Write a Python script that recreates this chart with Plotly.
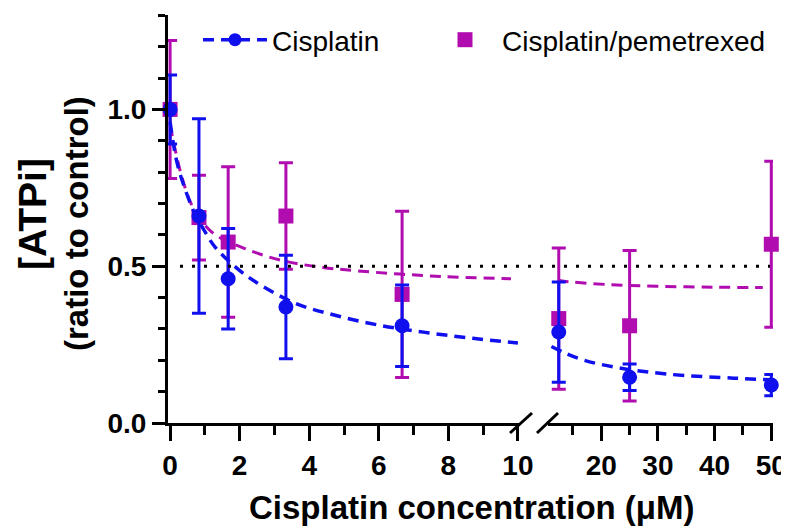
import plotly.graph_objects as go

# ---------------- data ----------------
conc = [0, 0.83, 1.67, 3.33, 6.67, 12.5, 25, 50]
cis_mean = [1.00, 0.66, 0.46, 0.37, 0.31, 0.29, 0.146, 0.121]
cis_err = [0.11, 0.31, 0.16, 0.165, 0.13, 0.16, 0.042, 0.034]
pem_mean = [1.00, 0.655, 0.577, 0.66, 0.41, 0.333, 0.31, 0.57]
pem_err = [0.22, 0.135, 0.24, 0.17, 0.265, 0.225, 0.24, 0.265]

# fitted curves (read as points from the picture)
cis_fit_x_left = [0, 0.2, 0.45, 0.7, 0.95, 1.3, 1.96, 2.6, 3.64, 4.8, 6.1, 7.4, 8.7, 10]
cis_fit_y_left = [0.96, 0.83, 0.74, 0.67, 0.62, 0.56, 0.49, 0.44, 0.38, 0.342, 0.31, 0.288, 0.27, 0.255]
cis_fit_x_right = [11.2, 13.4, 17, 22.8, 31.6, 43.4, 50]
cis_fit_y_right = [0.244, 0.225, 0.2, 0.177, 0.156, 0.143, 0.138]
pem_fit_x_left = [0, 0.3, 0.6, 0.86, 1.3, 2.2, 3.26, 4.4, 5.4, 6.6, 7.85, 9.8]
pem_fit_y_left = [0.95, 0.8, 0.7, 0.65, 0.6, 0.554, 0.517, 0.496, 0.485, 0.475, 0.467, 0.46]
pem_fit_x_right = [12.3, 13.4, 21.6, 29.8, 40, 48.5]
pem_fit_y_right = [0.455, 0.452, 0.441, 0.436, 0.433, 0.432]

half_max = 0.5
break_at = 10

x_title = "Cisplatin concentration (μM)"
y_title_1 = "[ATPi]"
y_title_2 = "(ratio to control)"
names = ["Cisplatin", "Cisplatin/pemetrexed"]

BLUE = "#1010EE"
MAG = "#B00CB0"
FONT = "Liberation Sans, Arial, sans-serif"

# the page body has an 8px margin, so the figure is a little smaller than the window
OFF = 8
WIN_W, WIN_H = 789, 529
W, H = WIN_W - OFF, WIN_H - OFF
PLOT_L, PLOT_R, PLOT_T, PLOT_B = 168, 773, 15, 423   # plot box in window pixels
ML, MT = PLOT_L - OFF, PLOT_T - OFF
MR, MB = WIN_W - PLOT_R, WIN_H - PLOT_B
PW = PLOT_R - PLOT_L
PH = PLOT_B - PLOT_T


def px_x(p):
    return (p - PLOT_L) / PW


def px_y(p):
    return (PLOT_B - p) / PH


fig = go.Figure()


def split(xs, ys, es):
    L = [(x, y, e) for x, y, e in zip(xs, ys, es) if x <= break_at]
    R = [(x, y, e) for x, y, e in zip(xs, ys, es) if x > break_at]
    return L, R


# magenta data (drawn first, so blue sits on top)
for part, xa in zip(split(conc, pem_mean, pem_err), ["x", "x2"]):
    fig.add_trace(go.Scatter(
        x=[p[0] for p in part], y=[p[1] for p in part], xaxis=xa, yaxis="y",
        mode="markers", name=names[1], legendrank=2, legendwidth=290,
        showlegend=(xa == "x"),
        marker=dict(symbol="square", size=15, color=MAG),
        error_y=dict(type="data", array=[p[2] for p in part], visible=True,
                     color=MAG, thickness=3, width=7),
        cliponaxis=False,
    ))

# magenta fit
fig.add_trace(go.Scatter(x=pem_fit_x_left, y=pem_fit_y_left, xaxis="x", yaxis="y",
                         mode="lines", line=dict(color=MAG, width=3, dash="11px,7px", shape="spline"),
                         showlegend=False, hoverinfo="skip"))
fig.add_trace(go.Scatter(x=pem_fit_x_right, y=pem_fit_y_right, xaxis="x2", yaxis="y",
                         mode="lines", line=dict(color=MAG, width=3, dash="11px,7px", shape="spline"),
                         showlegend=False, hoverinfo="skip"))

# blue fit
fig.add_trace(go.Scatter(x=cis_fit_x_left, y=cis_fit_y_left, xaxis="x", yaxis="y",
                         mode="lines", line=dict(color=BLUE, width=3.5, dash="11px,7px", shape="spline"),
                         showlegend=False, hoverinfo="skip"))
fig.add_trace(go.Scatter(x=cis_fit_x_right, y=cis_fit_y_right, xaxis="x2", yaxis="y",
                         mode="lines", line=dict(color=BLUE, width=3.5, dash="11px,7px", shape="spline"),
                         showlegend=False, hoverinfo="skip"))

# blue data
for part, xa in zip(split(conc, cis_mean, cis_err), ["x", "x2"]):
    fig.add_trace(go.Scatter(
        x=[p[0] for p in part], y=[p[1] for p in part], xaxis=xa, yaxis="y",
        mode="markers", showlegend=False,
        marker=dict(symbol="circle", size=15, color=BLUE),
        error_y=dict(type="data", array=[p[2] for p in part], visible=True,
                     color=BLUE, thickness=3, width=7),
        cliponaxis=False,
    ))

# legend entry for Cisplatin (dashed line + circle)
fig.add_trace(go.Scatter(x=[None], y=[None], xaxis="x", yaxis="y", mode="lines+markers",
                         name=names[0], legendrank=1, legendwidth=151,
                         line=dict(color=BLUE, width=3.5, dash="11px,7px"),
                         marker=dict(symbol="circle", size=13, color=BLUE)))

axis_common = dict(showline=True, linecolor="black", linewidth=3, ticks="outside",
                   tickcolor="black", tickwidth=3, ticklen=15, showgrid=False, zeroline=False,
                   automargin=False,
                   tickfont=dict(family=FONT, size=28, color="black", weight="bold"),
                   minor=dict(ticks="outside", ticklen=9, tickwidth=3, tickcolor="black", showgrid=False))

fig.update_layout(
    width=W, height=H,
    margin=dict(l=ML, r=MR, t=MT, b=MB, autoexpand=False),
    paper_bgcolor="white", plot_bgcolor="white",
    font=dict(family=FONT, color="black"),
    xaxis=dict(domain=[0, px_x(520)], range=[-0.06, 10.06], anchor="y",
               tickmode="linear", tick0=0, dtick=2, **axis_common),
    xaxis2=dict(domain=[px_x(548), 1], range=[10.6, 50.3], anchor="y",
                tickmode="linear", tick0=0, dtick=10, **axis_common),
    yaxis=dict(domain=[0, 1], range=[0, 1.301], anchor="x",
               tickmode="linear", tick0=0, dtick=0.5, tickformat=".1f",
               showline=True, linecolor="black", linewidth=3, ticks="outside",
               tickcolor="black", tickwidth=3, ticklen=13, showgrid=False, zeroline=False,
               automargin=False,
               tickfont=dict(family=FONT, size=28, color="black", weight="bold"),
               minor=dict(ticks="outside", ticklen=7, tickwidth=3, tickcolor="black",
                          dtick=0.1, showgrid=False)),
    legend=dict(orientation="h", x=px_x(198), xanchor="left", y=px_y(40), yanchor="middle",
                font=dict(family=FONT, size=28, color="black"),
                itemwidth=64, entrywidthmode="pixels", bgcolor="rgba(0,0,0,0)",
                traceorder="normal"),
    showlegend=True,
)

fig.layout.xaxis.minor.dtick = 1
fig.layout.xaxis2.minor.dtick = 5

# dotted half-maximum reference line
fig.add_shape(type="line", xref="paper", yref="y", x0=px_x(180), x1=px_x(770),
              y0=half_max, y1=half_max, line=dict(color="black", width=3, dash="3px,9px"))

# axis-break slashes
for (xa, ya, xb, yb) in [(510, 433, 532, 413), (537, 433, 558, 413)]:
    fig.add_shape(type="line", xref="paper", yref="paper",
                  x0=px_x(xa), y0=px_y(ya), x1=px_x(xb), y1=px_y(yb),
                  line=dict(color="black", width=3))

# axis titles
fig.add_annotation(text="<b>" + x_title + "</b>", xref="paper", yref="paper",
                   x=px_x(472), y=px_y(507), xanchor="center", yanchor="middle",
                   showarrow=False, font=dict(family=FONT, size=33, color="black"))
fig.add_annotation(text="<b>" + y_title_1 + "</b>", xref="paper", yref="paper",
                   x=px_x(32), y=px_y(214), xanchor="center", yanchor="middle", textangle=-90,
                   showarrow=False, font=dict(family=FONT, size=39, color="black"))
fig.add_annotation(text="<b>" + y_title_2 + "</b>", xref="paper", yref="paper",
                   x=px_x(77), y=px_y(224), xanchor="center", yanchor="middle", textangle=-90,
                   showarrow=False, font=dict(family=FONT, size=33, color="black"))

fig.write_html("out.html")
